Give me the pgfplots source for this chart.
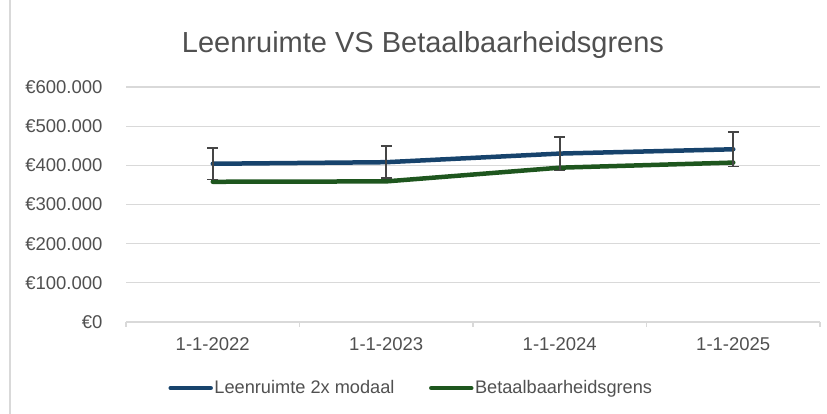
\documentclass[border=0pt]{standalone}
\usepackage{pgfplots}
\pgfplotsset{compat=1.18}
\usepackage{fontspec}
\setmainfont{Liberation Sans}
\definecolor{txt}{HTML}{505050}
\definecolor{gridc}{HTML}{D9D9D9}
\definecolor{blu}{HTML}{17436C}
\definecolor{grn}{HTML}{1E561E}
\definecolor{errc}{HTML}{454545}

\begin{document}
\begin{tikzpicture}[x=1pt,y=1pt]
\path[use as bounding box] (0,0) rectangle (827,414);
\draw[gridc, line width=1.2pt] (10,0) -- (10,414);
\node[txt, font=\fontsize{29}{34}\selectfont] at (423,369) {Leenruimte VS Betaalbaarheidsgrens};
\begin{axis}[
  at={(126pt,92pt)}, anchor=south west,
  scale only axis, width=694pt, height=235pt,
  xmin=-0.5, xmax=3.5, ymin=0, ymax=600000,
  xtick={0,1,2,3},
  xticklabels={1-1-2022,1-1-2023,1-1-2024,1-1-2025},
  minor xtick={-0.5,0.5,1.5,2.5,3.5},
  ytick={0,100000,200000,300000,400000,500000,600000},
  scaled y ticks=false,
  /pgf/number format/.cd, assume math mode=true, 1000 sep={.}, fixed, precision=0,
  /pgfplots/.cd,
  yticklabel={€\pgfmathprintnumber{\tick}},
  ymajorgrids, grid style={gridc, line width=1.2pt},
  axis line style={draw=none},
  xtick pos=bottom, ytick pos=left,
  tick align=outside,
  major tick length=0pt, minor tick length=5pt,
  minor tick style={gridc, line width=1.2pt},
  major tick style={draw=none},
  tick label style={txt, font=\fontsize{18.5}{22}\selectfont},
  yticklabel style={xshift=-20pt},
  xticklabel style={yshift=-12pt},
  reverse legend,
  legend columns=2,
  legend style={at={(0.4107,-0.281)}, anchor=center, draw=none, fill=none,
    font=\fontsize{18.2}{22}\selectfont, text=txt,
    /tikz/every even column/.append style={column sep=33pt},
    nodes={inner sep=1.5pt}},
  legend image code/.code={\draw[#1, line cap=round] (0pt,0pt) -- (40pt,0pt);},
]
\addplot[grn, line width=4.5pt, line cap=round, line join=round, mark=none]
  coordinates {(0,358000) (1,359000) (2,394000) (3,407000)};
\addlegendentry{Betaalbaarheidsgrens}
\addplot[blu, line width=4.5pt, line cap=round, line join=round, mark=none,
  error bars/.cd, y dir=both, y explicit,
  error bar style={errc, line width=1.6pt, line cap=butt},
  error mark options={rotate=90, mark size=5.5pt, errc, line width=1.6pt}]
  coordinates {(0,404000) +- (0,40400) (1,408000) +- (0,40800) (2,430000) +- (0,43000) (3,441000) +- (0,44100)};
\addlegendentry{Leenruimte 2x modaal}
\end{axis}
\end{tikzpicture}
\end{document}
